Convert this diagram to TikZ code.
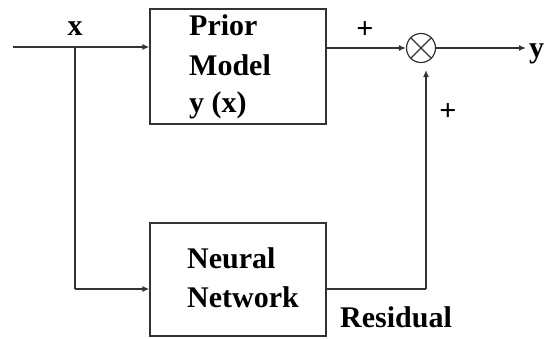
\documentclass[tikz,border=0pt]{standalone}
\usepackage{fontspec}
\setmainfont{Liberation Serif}
\usetikzlibrary{arrows.meta}
\begin{document}
\begin{tikzpicture}[x=1pt,y=-1pt,
  line/.style={draw=black!80,line width=1.3pt},
  arr/.style={line,-{Latex[length=7pt,width=6pt]}},
  blk/.style={draw=black!80,line width=1.3pt,rectangle,inner sep=0pt},
  lbl/.style={font=\fontsize{30}{36}\selectfont\bfseries,inner sep=0pt,anchor=base west}]
\useasboundingbox (0,0) rectangle (546,338);
% boxes
\node[blk,minimum width=176pt,minimum height=115pt] (prior) at (238,66.5) {};
\node[blk,minimum width=176pt,minimum height=113pt] (nn) at (238,279.5) {};
% box texts
\node[lbl] (p1) at (189,35) {Prior};
\node[lbl] (p2) at (189,75) {Model};
\node[lbl] (p3) at (189,112) {y (x)};
\node[lbl] (n1) at (187,268) {Neural};
\node[lbl] (n2) at (187,307) {Network};
% summing junction
\node[draw=black!80,line width=1.2pt,circle,minimum size=29pt,inner sep=0pt] (sum) at (421,48) {};
\draw[line width=1.1pt,black!80] (sum.north west) -- (sum.south east) (sum.north east) -- (sum.south west);
% coordinates
\coordinate (in) at (13,47);
\coordinate (br) at (75,47);
\coordinate (brd) at (75,289);
\coordinate (out) at (526,48);
\coordinate (rc) at (426,289);
\coordinate (rtip) at (426,70);
% connectors
\draw[arr] (in) -- (prior.west |- in);
\draw[line] (br) -- (brd);
\draw[arr] (brd) -- (nn.west |- brd);
\draw[arr] (prior.east |- sum) -- (sum.west);
\draw[arr] (sum.east) -- (out);
\draw[line] (nn.east |- rc) -- (rc);
\draw[arr] (rc) -- (rtip);
% labels
\node[lbl,anchor=base] (xl) at (75,35) {x};
\node[lbl,anchor=center] (plus1) at (365,30) {+};
\node[lbl,anchor=center] (plus2) at (448,112) {+};
\node[lbl] (yl) at (529,57) {y};
\node[lbl] (res) at (340,327) {Residual};
\end{tikzpicture}
\end{document}
